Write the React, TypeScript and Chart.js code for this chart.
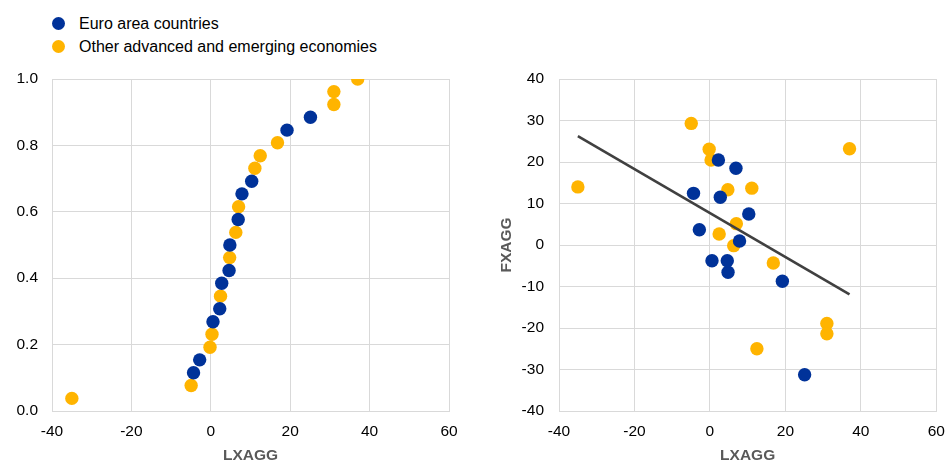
import React, { useEffect, useRef } from 'react';
import { Chart, registerables } from 'chart.js';

Chart.register(...registerables);

// ---------- data ----------
const EURO_LABEL = 'Euro area countries';
const OTHER_LABEL = 'Other advanced and emerging economies';
const X_TITLE = 'LXAGG';
const Y_TITLE_RIGHT = 'FXAGG';

// Euro area countries
const euroLXAGG = [25.1, 19.2, 10.3, 7.85, 6.9, 4.8, 4.6, 2.75, 2.25, 0.55, -2.8, -4.35];
const euroShare = [0.885, 0.846, 0.692, 0.654, 0.577, 0.5, 0.423, 0.385, 0.308, 0.269, 0.154, 0.115];
const euroFXAGG = [-31.25, -8.75, 7.47, 0.96, 18.5, -6.58, -3.78, 11.5, 20.5, -3.78, 3.69, 12.45];

// Other advanced and emerging economies
const otherLXAGG = [37.0, 31.0, 31.0, 16.8, 12.45, 11.1, 7.0, 6.3, 4.75, 2.45, 0.3, -0.2, -4.95, -35.0];
const otherShare = [1.0, 0.962, 0.923, 0.808, 0.769, 0.731, 0.615, 0.538, 0.462, 0.346, 0.231, 0.192, 0.077, 0.038];
const otherFXAGG = [23.2, -18.9, -21.4, -4.34, -25.0, 13.7, 5.14, -0.16, 13.3, 2.65, 20.5, 23.06, 29.3, 14.0];

// axis ranges
const xRange = [-40, 60, 20];
const leftYRange = [0, 1, 0.2];
const rightYRange = [-40, 40, 10];

// ---------- styles ----------
const BLUE = '#003299';
const YELLOW = '#FFB400';
const GRID = '#d9d9d9';
const TREND = '#404040';
const FONT = "'Liberation Sans', Arial, Helvetica, sans-serif";
const TICK_FONT = { family: FONT, size: 15.5 };
const TITLE_FONT = { family: FONT, size: 15.5, weight: 'bold' as const, lineHeight: 1 };

const pts = (xs: number[], ys: number[]) => xs.map((x, i) => ({ x, y: ys[i] }));

function trendPoints() {
  const xs = [...euroLXAGG, ...otherLXAGG];
  const ys = [...euroFXAGG, ...otherFXAGG];
  const n = xs.length;
  const mx = xs.reduce((a, b) => a + b, 0) / n;
  const my = ys.reduce((a, b) => a + b, 0) / n;
  let sxy = 0;
  let sxx = 0;
  for (let i = 0; i < n; i++) {
    sxy += (xs[i] - mx) * (ys[i] - my);
    sxx += (xs[i] - mx) * (xs[i] - mx);
  }
  const b = sxy / sxx;
  const a = my - b * mx;
  const lo = Math.min(...xs);
  const hi = Math.max(...xs);
  return [
    { x: lo, y: a + b * lo },
    { x: hi, y: a + b * hi },
  ];
}

const pointStyle = (color: string) => ({
  backgroundColor: color,
  borderColor: color,
  borderWidth: 0,
  pointRadius: 6.7,
  pointHoverRadius: 6.7,
});

const zeroPad = (s: any) => {
  s.paddingTop = 0;
  s.paddingBottom = 0;
  s.paddingLeft = 0;
  s.paddingRight = 0;
};

function xScale() {
  return {
    type: 'linear' as const,
    min: xRange[0],
    max: xRange[1],
    ticks: { stepSize: xRange[2], font: TICK_FONT, color: '#000', padding: 11 },
    grid: { color: GRID, lineWidth: 1, drawTicks: false },
    border: { color: GRID, width: 1 },
    title: {
      display: true,
      text: X_TITLE,
      font: TITLE_FONT,
      color: '#595959',
      padding: { top: 0, bottom: -2 },
    },
    afterFit: (s: any) => {
      s.height = 50;
      zeroPad(s);
    },
  };
}

function LeftChart() {
  const ref = useRef<HTMLCanvasElement>(null);
  useEffect(() => {
    const chart = new Chart(ref.current!, {
      type: 'scatter',
      data: {
        datasets: [
          { label: EURO_LABEL, data: pts(euroLXAGG, euroShare), ...pointStyle(BLUE), order: 1 },
          { label: OTHER_LABEL, data: pts(otherLXAGG, otherShare), ...pointStyle(YELLOW), order: 2 },
        ],
      },
      options: {
        animation: false,
        responsive: false,
        devicePixelRatio: 1,
        layout: { padding: { left: 0, right: 21, top: 19, bottom: 0 } },
        plugins: { legend: { display: false }, tooltip: { enabled: false } },
        scales: {
          x: xScale(),
          y: {
            type: 'linear',
            min: leftYRange[0],
            max: leftYRange[1],
            ticks: {
              stepSize: leftYRange[2],
              font: TICK_FONT,
              color: '#000',
              padding: 14,
              callback: (v: any) => Number(v).toFixed(1),
            },
            grid: { color: GRID, lineWidth: 1, drawTicks: false },
            border: { color: GRID, width: 1 },
            afterFit: (s: any) => {
              s.width = 52;
              zeroPad(s);
            },
          },
        },
      },
    } as any);
    return () => chart.destroy();
  }, []);
  return (
    <canvas
      ref={ref}
      width={470}
      height={401}
      style={{ position: 'absolute', left: 0, top: 60, width: 470, height: 401 }}
    />
  );
}

function RightChart() {
  const ref = useRef<HTMLCanvasElement>(null);
  useEffect(() => {
    const chart = new Chart(ref.current!, {
      type: 'scatter',
      data: {
        datasets: [
          {
            label: 'Trend',
            data: trendPoints(),
            showLine: true,
            borderColor: TREND,
            borderWidth: 2.6,
            pointRadius: 0,
            pointHoverRadius: 0,
            order: 0,
          },
          { label: EURO_LABEL, data: pts(euroLXAGG, euroFXAGG), ...pointStyle(BLUE), order: 1 },
          { label: OTHER_LABEL, data: pts(otherLXAGG, otherFXAGG), ...pointStyle(YELLOW), order: 2 },
        ],
      },
      options: {
        animation: false,
        responsive: false,
        devicePixelRatio: 1,
        layout: { padding: { left: 0, right: 9.7, top: 19, bottom: 0 } },
        plugins: { legend: { display: false }, tooltip: { enabled: false } },
        scales: {
          x: xScale(),
          y: {
            type: 'linear',
            min: rightYRange[0],
            max: rightYRange[1],
            ticks: { stepSize: rightYRange[2], font: TICK_FONT, color: '#000', padding: 15 },
            grid: { color: GRID, lineWidth: 1, drawTicks: false },
            border: { color: GRID, width: 1 },
            title: {
              display: true,
              text: Y_TITLE_RIGHT,
              font: TITLE_FONT,
              color: '#595959',
              padding: { top: 29.25, bottom: 0 },
            },
            afterFit: (s: any) => {
              s.width = 89;
              zeroPad(s);
            },
          },
        },
      },
    } as any);
    return () => chart.destroy();
  }, []);
  return (
    <canvas
      ref={ref}
      width={476}
      height={401}
      style={{ position: 'absolute', left: 470, top: 60, width: 476, height: 401 }}
    />
  );
}

function LegendRow({ color, text, top }: { color: string; text: string; top: number }) {
  return (
    <div
      style={{
        position: 'absolute',
        left: 52,
        top,
        height: 23,
        display: 'flex',
        alignItems: 'center',
        whiteSpace: 'nowrap',
      }}
    >
      <span
        style={{
          display: 'inline-block',
          width: 13,
          height: 13,
          borderRadius: '50%',
          background: color,
          marginRight: 14,
        }}
      />
      <span style={{ fontFamily: FONT, fontSize: 16, color: '#000', lineHeight: '23px' }}>{text}</span>
    </div>
  );
}

export default function App() {
  return (
    <div
      style={{
        position: 'fixed',
        left: 0,
        top: 0,
        width: 946,
        height: 461,
        background: '#fff',
        overflow: 'hidden',
      }}
    >
      <LegendRow color={BLUE} text={EURO_LABEL} top={12} />
      <LegendRow color={YELLOW} text={OTHER_LABEL} top={35} />
      <LeftChart />
      <RightChart />
    </div>
  );
}
